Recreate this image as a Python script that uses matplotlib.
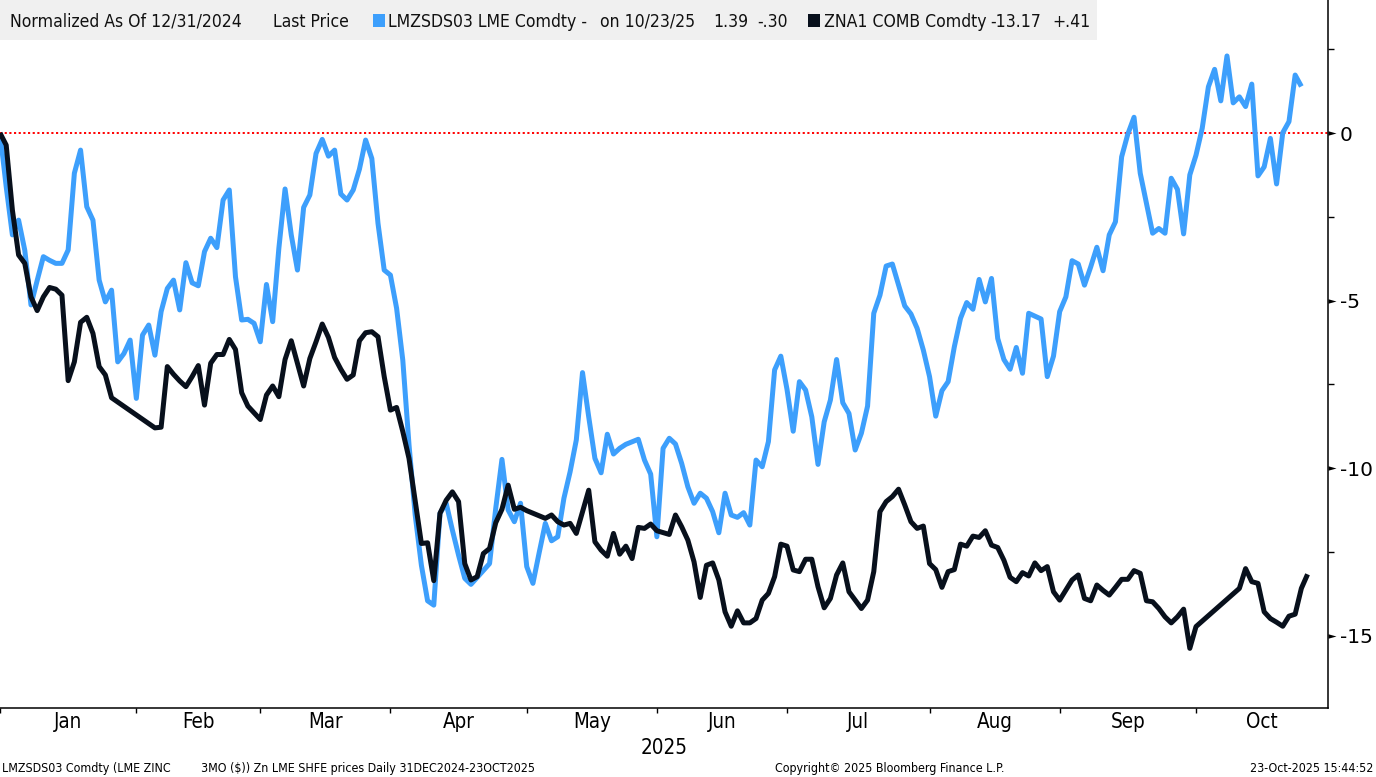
import numpy as np
import pandas as pd
import matplotlib
matplotlib.use('Agg')
import matplotlib.pyplot as plt
import matplotlib.transforms as mtransforms
from matplotlib.patches import Rectangle

plt.rcParams['axes.unicode_minus'] = False

nan = np.nan

# trading days on the chart axis (both markets shut on Jan 1 and May 5)
days = pd.bdate_range('2024-12-31', '2025-10-24')
days = days.drop(pd.to_datetime(['2025-01-01', '2025-05-05']))

# LME 3M zinc, normalized to 12/31/2024 (nan = LME closed)
lme = [0.00, -1.60, -3.04, -2.60, -3.50, -5.13, -4.40, -3.69, -3.80, -3.89,
       -3.89, -3.49, -1.20, -0.51, -2.20, -2.60, -4.39, -5.04, -4.69, -6.83,
       -6.58, -6.18, -7.92, -6.03, -5.73, -6.63, -5.33, -4.64, -4.39, -5.28,
       -3.87, -4.47, -4.56, -3.54, -3.14, -3.42, -2.00, -1.70, -4.29, -5.58,
       -5.56, -5.68, -6.23, -4.52, -5.63, -3.44, -1.67, -3.04, -4.09, -2.22,
       -1.85, -0.61, -0.19, -0.69, -0.51, -1.82, -2.00, -1.70, -1.08, -0.21,
       -0.76, -2.70, -4.09, -4.24, -5.23, -6.78, -9.30, -11.40, -12.90, -13.96,
       -14.09, -11.35, -11.05, -11.85, -12.60, -13.29, -13.47, nan, nan, -12.85,
       -11.20, -9.74, -11.25, -11.60, -11.05, -12.94, -13.44, -12.53, -11.65, -12.17,
       -12.05, -10.90, -10.11, -9.16, -7.15, -8.47, -9.71, -10.14, -8.99, -9.58,
       -9.41, -9.29, nan, -9.14, -9.76, -10.18, -12.05, -9.41, -9.11, -9.28,
       -9.86, -10.56, -11.05, -10.75, -10.90, -11.30, -11.93, -10.75, -11.40, -11.47,
       -11.33, -11.70, -9.76, -9.96, -9.21, -7.07, -6.66, -7.65, -8.90, -7.42,
       -7.67, -8.47, -9.89, -8.62, -7.97, -6.76, -8.05, -8.37, -9.46, -8.96,
       -8.15, -5.38, -4.84, -3.97, -3.91, -4.54, -5.16, -5.40, -5.83, -6.48,
       -7.27, -8.45, -7.69, -7.42, -6.38, -5.53, -5.06, -5.26, -4.37, -5.04,
       -4.34, -6.13, -6.76, -7.05, -6.40, -7.17, -5.38, nan, -5.55, -7.27,
       -6.66, -5.33, -4.89, -3.81, -3.91, -4.54, -4.00, -3.41, -4.11, -3.04,
       -2.65, -0.71, -0.03, 0.47, -1.20, -2.10, -2.99, -2.85, -2.99, -1.35,
       -1.68, -3.01, -1.25, -0.66, 0.14, 1.38, 1.90, 0.96, 2.30, 0.90,
       1.08, 0.79, 1.46, -1.28, -1.01, -0.16, -1.52, 0.01, 0.34, 1.73,
       1.39]

# SHFE zinc (ZNA1 COMB), normalized to 12/31/2024 (nan = SHFE closed)
shfe = [0.00, -0.36, -2.30, -3.64, -3.89, -4.89, -5.30, -4.89, -4.61, -4.66,
        -4.84, -7.39, -6.83, -5.65, -5.50, -5.98, -6.97, -7.22, -7.90, nan,
        nan, nan, nan, nan, nan, -8.80, -8.78, -6.97, -7.20, -7.40,
        -7.57, -7.27, -6.94, -8.12, -6.87, -6.61, -6.61, -6.16, -6.46, -7.75,
        -8.15, -8.35, -8.55, -7.82, -7.55, -7.87, -6.76, -6.20, -6.87, -7.55,
        -6.73, -6.23, -5.70, -6.10, -6.70, -7.05, -7.35, -7.22, -6.20, -5.96,
        -5.93, -6.08, -7.27, -8.27, -8.19, -8.91, -9.71, nan, -12.25, -12.23,
        -13.36, -11.35, -10.96, -10.71, -11.00, -12.85, -13.34, -13.24, -12.55, -12.40,
        -11.63, -11.23, -10.51, -11.23, -11.17, -11.27, nan, nan, -11.50, -11.40,
        -11.60, -11.70, -11.65, -11.95, -11.30, -10.66, -12.20, -12.45, -12.63, -11.95,
        -12.57, -12.33, -12.70, -11.77, -11.80, -11.67, -11.87, nan, -11.98, -11.40,
        -11.75, -12.15, -12.80, -13.86, -12.90, -12.83, -13.34, -14.29, -14.72, -14.26,
        -14.62, -14.62, -14.49, -13.94, -13.74, -13.24, -12.27, -12.33, -13.04, -13.09,
        -12.72, -12.72, -13.54, -14.17, -13.89, -13.19, -12.83, -13.69, -13.94, -14.19,
        -13.94, -13.09, -11.30, -11.00, -10.85, -10.63, -11.10, -11.60, -11.80, -11.73,
        -12.85, -13.03, -13.56, -13.09, -13.03, -12.27, -12.33, -12.03, -12.07, -11.87,
        -12.30, -12.37, -12.75, -13.26, -13.39, -13.12, -13.22, -12.83, -13.06, -12.94,
        -13.69, -13.94, -13.64, -13.34, -13.19, -13.89, -13.96, -13.49, -13.65, -13.79,
        -13.56, -13.32, -13.32, -13.06, -13.14, -13.96, -13.99, -14.19, -14.44, -14.62,
        -14.44, -14.21, -15.38, -14.73, nan, nan, nan, nan, nan, nan,
        -13.59, -13.00, -13.39, -13.44, -14.29, -14.49, -14.60, -14.72, -14.42, -14.36,
        -13.59, -13.17]

month_names = ['Jan', 'Feb', 'Mar', 'Apr', 'May', 'Jun', 'Jul', 'Aug', 'Sep', 'Oct']
y_major = [0, -5, -10, -15]
y_minor = [2.5, -2.5, -7.5, -12.5]

BLUE = '#3d9ffc'
BLACK = '#08101c'
COND = dict(family='DejaVu Sans', fontstretch='condensed')

W, H = 1376, 777
AX_R, AX_B = 1328, 708          # right spine / bottom spine in pixels
fig = plt.figure(figsize=(W / 100, H / 100), dpi=100)
fig.patch.set_facecolor('white')
ax = fig.add_axes([0, 1 - AX_B / H, AX_R / W, AX_B / H])

x = np.arange(len(days))
xmin, xmax = 0.11, 214.3


def draw(vals, color):
    v = np.array(vals, dtype=float)
    xs = x[:len(v)]
    m = ~np.isnan(v)
    ax.plot(xs[m], v[m], color=color, lw=3.6, solid_joinstyle='round',
            solid_capstyle='butt', zorder=3)


draw(lme, BLUE)
draw(shfe, BLACK)
ax.axhline(0, color='#ff0000', lw=1.4, ls=(0, (1.1, 1.3)), zorder=2)

ax.set_xlim(xmin, xmax)
ax.set_ylim(-17.16, 3.97)

# month boundaries: tick on the last trading day of the previous month
months = days.month.values
firsts = [i for i in range(1, len(days)) if months[i] != months[i - 1]]
ticks = [f - 1 for f in firsts][:len(month_names)]
edges = ticks + [xmax]
mids = [(edges[i] + edges[i + 1]) / 2 for i in range(len(month_names))]

ax.set_xticks(ticks)
ax.set_xticklabels([''] * len(ticks))
ax.tick_params(axis='x', which='major', direction='out', length=3.5, width=1, color='black')

xtrans = mtransforms.blended_transform_factory(ax.transData, ax.transAxes)
for m, name in zip(mids, month_names):
    ax.text(m, 1 - 728 / AX_B, name, transform=xtrans, ha='center', va='baseline',
            fontsize=14.8, **COND)
ax.text(0.5, 1 - 754 / AX_B, '2025', transform=ax.transAxes, ha='center', va='baseline',
        fontsize=14.8, **COND)

ax.yaxis.tick_right()
ax.set_yticks(y_major)
ax.set_yticklabels([str(v) for v in y_major], family='DejaVu Sans', fontsize=14.5)
ax.set_yticks(y_minor, minor=True)
ax.tick_params(axis='y', which='major', direction='out', length=0, pad=8.5)
ax.tick_params(axis='y', which='minor', direction='out', length=4, width=1)

# small triangle marks at the major levels
trans = mtransforms.blended_transform_factory(ax.transAxes, ax.transData)
trans = trans + mtransforms.ScaledTranslation(4 / 100, 0, fig.dpi_scale_trans)
tri = [(-1, -0.55), (1, 0), (-1, 0.55)]
ax.plot([1.0] * len(y_major), y_major, ls='none', marker=tri, ms=5.8, color='black',
        mew=0, transform=trans, clip_on=False)

for s in ['left', 'top']:
    ax.spines[s].set_visible(False)
for s in ['right', 'bottom']:
    ax.spines[s].set_linewidth(1.1)
    ax.spines[s].set_color('black')


def px(xp, yp):
    return xp / W, 1 - yp / H


# legend strip
fig.add_artist(Rectangle(px(0, 40), 1097 / W, 40 / H, transform=fig.transFigure,
                         facecolor='#f0f0f0', edgecolor='none', zorder=5))
legend_parts = [(10, 'Normalized As Of 12/31/2024'), (273, 'Last Price'),
                (388, 'LMZSDS03 LME Comdty -'), (600, 'on 10/23/25'), (713, '1.39'),
                (757, '-.30'), (824, 'ZNA1 COMB Comdty'), (990, '-13.17'), (1052, '+.41')]
for xp, s in legend_parts:
    fig.text(*px(xp, 27), s, fontsize=12.6, va='baseline', zorder=6, color='#111111', **COND)
fig.add_artist(Rectangle(px(373, 27), 12 / W, 13 / H, transform=fig.transFigure,
                         facecolor=BLUE, edgecolor='none', zorder=6))
fig.add_artist(Rectangle(px(808, 27), 12 / W, 13 / H, transform=fig.transFigure,
                         facecolor=BLACK, edgecolor='none', zorder=6))

# footer
footer = [(2, 'LMZSDS03 Comdty (LME ZINC', 'left'),
          (201, '3MO ($)) Zn LME SHFE prices Daily 31DEC2024-23OCT2025', 'left'),
          (775, 'Copyright\u00a9 2025 Bloomberg Finance L.P.', 'left'),
          (1373, '23-Oct-2025 15:44:52', 'right')]
for xp, s, ha in footer:
    fig.text(*px(xp, 772), s, fontsize=8.9, va='baseline', ha=ha, **COND)

fig.savefig('out.png', dpi=100)
